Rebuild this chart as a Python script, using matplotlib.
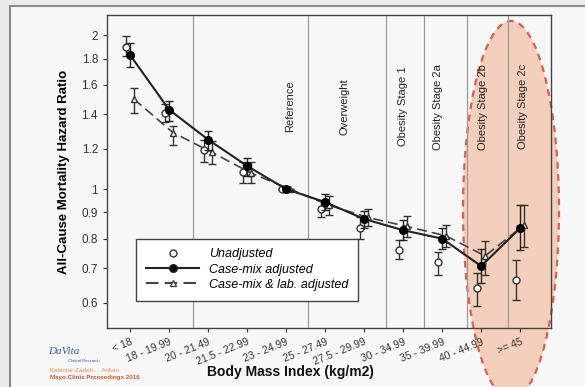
import matplotlib
matplotlib.use("Agg")
import matplotlib.pyplot as plt
from matplotlib.patches import Ellipse, Rectangle
from matplotlib.lines import Line2D
import numpy as np

plt.rcParams['font.family'] = ['Liberation Sans', 'DejaVu Sans']

categories = ["< 18", "18 - 19.99", "20 - 21.49", "21.5 - 22.99", "23 - 24.99",
              "25 - 27.49", "27.5 - 29.99", "30 - 34.99", "35 - 39.99",
              "40 - 44.99", ">= 45"]

unadj = [1.90, 1.41, 1.19, 1.08, 1.00, 0.914, 0.839, 0.760, 0.720, 0.640, 0.664]
unadj_lo = [1.82, 1.35, 1.13, 1.03, 1.00, 0.88, 0.80, 0.730, 0.680, 0.590, 0.607]
unadj_hi = [1.99, 1.47, 1.25, 1.13, 1.00, 0.95, 0.88, 0.795, 0.753, 0.685, 0.726]

casemix = [1.83, 1.43, 1.25, 1.11, 1.00, 0.943, 0.874, 0.831, 0.800, 0.707, 0.839]
casemix_lo = [1.73, 1.36, 1.19, 1.06, 1.00, 0.91, 0.84, 0.795, 0.765, 0.655, 0.76]
casemix_hi = [1.93, 1.49, 1.30, 1.15, 1.00, 0.978, 0.906, 0.870, 0.840, 0.765, 0.93]

lab = [1.50, 1.29, 1.18, 1.075, 1.00, 0.93, 0.880, 0.845, 0.810, 0.740, 0.850]
lab_lo = [1.41, 1.22, 1.12, 1.03, 1.00, 0.89, 0.845, 0.805, 0.770, 0.680, 0.77]
lab_hi = [1.58, 1.33, 1.24, 1.13, 1.00, 0.97, 0.915, 0.885, 0.850, 0.790, 0.93]

region_labels = ["Reference", "Overweight", "Obesity Stage 1", "Obesity Stage 2a",
                 "Obesity Stage 2b", "Obesity Stage 2c"]
region_x = [4.1, 5.5, 7.0, 7.9, 9.05, 10.08]
divider_x = [1.62, 4.56, 6.56, 7.54, 8.64, 9.69]

yticks = [0.6, 0.7, 0.8, 0.9, 1, 1.2, 1.4, 1.6, 1.8, 2]
ytick_labels = ["0.6", "0.7", "0.8", "0.9", "1", "1.2", "1.4", "1.6", "1.8", "2"]

fig = plt.figure(figsize=(5.85, 3.87), dpi=100)
fig.patch.set_facecolor('#ececec')

# inner frame
frame = Rectangle((10/585, -0.05), 1.2, 1.05 - 6/387, transform=fig.transFigure,
                  facecolor='#f8f8f8', edgecolor='#8a8a8a', lw=1.5, zorder=-3)
fig.patches.append(frame)

# highlighted ellipse
ell = Ellipse((511/585, 1 - 210/387), 96/585, 378/387, transform=fig.transFigure,
              facecolor='#f4cbb6', edgecolor='#d9503a', lw=1.6, ls=(0, (3, 2.5)),
              alpha=0.9, zorder=-1)
fig.patches.append(ell)

ax = fig.add_axes([107/585, 1 - 328/387, 444/585, 313/387])
ax.set_facecolor('none')
ax.set_yscale('log')
ax.set_ylim(0.535, 2.19)
ax.set_xlim(-0.59, 10.79)

x = np.arange(len(categories))
off = 0.1

for xv in divider_x:
    ax.axvline(xv, color='#9a9a9a', lw=0.9, zorder=1)

def yerr(v, lo, hi):
    v = np.array(v); return [v - np.array(lo), np.array(hi) - v]

ax.errorbar(x - off, unadj, yerr=yerr(unadj, unadj_lo, unadj_hi), fmt='o',
            mfc='white', mec='#333333', ecolor='#333333', ms=5, capsize=3,
            elinewidth=1, capthick=1, zorder=3)
ax.errorbar(x + off, lab, yerr=yerr(lab, lab_lo, lab_hi), fmt='^', ls=(0, (6, 3)),
            color='#444444', mfc='white', mec='#333333', ecolor='#333333', ms=5,
            capsize=3, elinewidth=1, capthick=1, lw=1.2, zorder=4)
ax.errorbar(x, casemix, yerr=yerr(casemix, casemix_lo, casemix_hi), fmt='o', ls='-',
            color='#222222', mfc='black', mec='black', ecolor='#222222', ms=5.5,
            capsize=3, elinewidth=1, capthick=1, lw=1.5, zorder=5)

for lbl, xv in zip(region_labels, region_x):
    ax.text(xv, 1.45, lbl, rotation=90, ha='center', va='center',
            fontsize=8, color='#222222')

ax.set_yticks(yticks)
ax.set_yticklabels(ytick_labels)
ax.yaxis.set_minor_locator(matplotlib.ticker.NullLocator())
ax.tick_params(axis='y', labelsize=8.5, length=3, colors='#333333')
ax.set_xticks(x)
ax.set_xticklabels(categories, rotation=22, ha='right', rotation_mode='anchor',
                   fontsize=7.5)
ax.tick_params(axis='x', length=3, colors='#333333')
for s in ax.spines.values():
    s.set_color('#444444'); s.set_linewidth(1)

ax.set_ylabel("All-Cause Mortality Hazard Ratio", fontsize=9.5, fontweight='bold',
              labelpad=8)
fig.text(290/585, 1 - 372/387, "Body Mass Index (kg/m2)", fontsize=10,
         fontweight='bold', ha='center', va='center', color='#111111')

handles = [Line2D([], [], ls='none', marker='o', mfc='white', mec='#333333', ms=5),
           Line2D([], [], ls='-', marker='o', color='#222222', mfc='black', ms=5.5, lw=1.5),
           Line2D([], [], ls=(0, (6, 3)), marker='^', color='#444444', mfc='white', ms=5)]
leg = ax.legend(handles, ["Unadjusted", "Case-mix adjusted", "Case-mix & lab. adjusted"],
                loc='lower left', bbox_to_anchor=(23/444, 21/313), fancybox=False,
                edgecolor='#444444', framealpha=1, facecolor='white',
                prop={'style': 'italic', 'size': 9}, handlelength=4.2,
                borderpad=0.8, labelspacing=0.25)
leg.get_frame().set_linewidth(1)

fig.text(48/585, 1 - 352/387, "DaVita", fontsize=8, style='italic', color='#3a5aa8',
         ha='left', va='center', family='Liberation Serif')
fig.text(68/585, 1 - 361/387, "Clinical Research", fontsize=3, color='#3a5aa8',
         ha='left', va='center')
fig.text(50/585, 1 - 370/387, "Kalantar-Zadeh ... Arikan", fontsize=4.5,
         color='#f08a50', ha='left', va='center')
fig.text(50/585, 1 - 378/387, "Mayo Clinic Proceedings 2016", fontsize=4.5,
         color='#e0502a', fontweight='bold', ha='left', va='center')

fig.savefig("out.png", dpi=100, facecolor=fig.get_facecolor())
